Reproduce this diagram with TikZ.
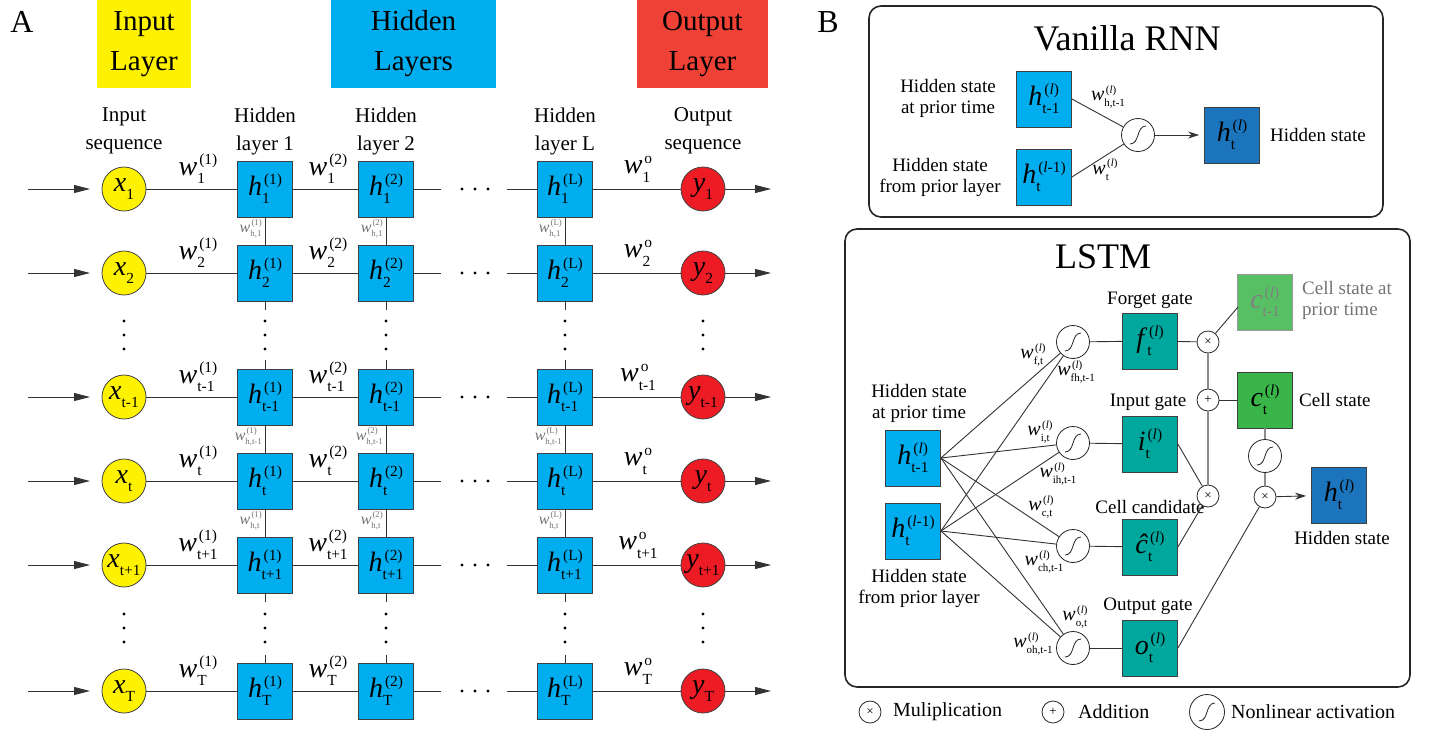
\documentclass[tikz,border=0pt]{standalone}
\usepackage{fontspec}
\setmainfont{Liberation Serif}
\usetikzlibrary{arrows.meta,calc}
\definecolor{cyanA}{HTML}{00AEEF}
\definecolor{yelA}{HTML}{FFF200}
\definecolor{redA}{HTML}{EF4136}
\definecolor{redB}{HTML}{ED1C24}
\definecolor{tealA}{HTML}{00A79D}
\definecolor{greenA}{HTML}{39B54A}
\definecolor{blueD}{HTML}{1C75BC}
\makeatletter
\newdimen\SSd
\newdimen\SSe
\newcommand\SSz{\SSd=\f@size pt\SSd=0.55\SSd\fontsize{\strip@pt\SSd}{\strip@pt\SSd}\selectfont}
\newcommand\SubSup[2]{{\SSe=1em\SSz
 \setbox0\hbox{\raise-0.3\SSe\hbox{#1}}%
 \setbox2\hbox{\kern0.07\SSe\raise0.38\SSe\hbox{#2}}%
 \ifdim\wd0>\wd2 \rlap{\box2}\box0 \else\rlap{\box0}\box2 \fi}}
\makeatother
\newcommand\Mv[3]{\textit{#1}\SubSup{#2}{#3}}
\newcommand\Mx[2]{\textit{#1}\SubSup{#2}{}}
\begin{document}
\begin{tikzpicture}[x=1pt,y=-1pt,
 ln/.style={draw=black!80,line width=0.9pt},
 gl/.style={draw=black!45,line width=1.1pt},
 arr/.style={ln,-{Triangle[length=16pt,width=8pt]}},
 sarr/.style={ln,-{Stealth[length=11pt,width=7pt]}},
 hbox/.style={draw=black!75,line width=0.8pt,fill=cyanA,minimum width=55pt,minimum height=56pt,inner sep=0pt,font=\fontsize{28}{30}\selectfont},
 gbox/.style={hbox,fill=tealA},
 grbox/.style={hbox,fill=greenA},
 dbox/.style={hbox,fill=blueD},
 cpbox/.style={hbox,fill=greenA!85!white,draw=black!40,text=black!50},
 xc/.style={circle,draw=black!75,line width=0.8pt,fill=yelA,minimum size=44pt,inner sep=0pt,font=\fontsize{28}{30}\selectfont},
 yc/.style={xc,fill=redB},
 wlab/.style={font=\fontsize{28}{30}\selectfont,inner sep=0pt},
 vlab/.style={font=\fontsize{16}{18}\selectfont,text=black!55,inner sep=0pt,anchor=east},
 wl/.style={font=\fontsize{20}{22}\selectfont,inner sep=0pt},
 col/.style={font=\fontsize{21}{28}\selectfont,align=center},
 head/.style={font=\fontsize{29}{40}\selectfont,align=center,inner sep=0pt},
 lab/.style={font=\fontsize{19}{21}\selectfont,align=center,inner sep=0pt},
 leg/.style={font=\fontsize{20}{22}\selectfont,inner sep=0pt,anchor=west},
 ttl/.style={font=\fontsize{36}{40}\selectfont,inner sep=0pt},
 dt/.style={circle,fill=black,inner sep=0pt,minimum size=3.4pt},
 mul/.style={circle,draw=black!85,line width=0.8pt,fill=white,minimum size=22pt,inner sep=0pt,font=\fontsize{13}{13}\selectfont},
 sig/.style={circle,draw=black!85,line width=0.8pt,fill=white,minimum size=33pt,inner sep=0pt,
   path picture={\draw[line width=0.8pt] ([shift={(-8pt,-9pt)}]path picture bounding box.center) .. controls +(10pt,0pt) and +(-10pt,0pt) .. ([shift={(8pt,9pt)}]path picture bounding box.center);}},
 bigsig/.style={sig,minimum size=35pt}
]
\useasboundingbox (0,0) rectangle (1429,732);

% ---------------- Panel A ----------------
\node[font=\fontsize{32}{32}\selectfont] (lA) at (22,22) {A};
\node[head,fill=yelA,minimum width=94pt,minimum height=88pt] (hIn) at (144,44) {Input\\Layer};
\node[head,fill=cyanA,minimum width=165pt,minimum height=88pt] (hHid) at (413.5,44) {Hidden\\Layers};
\node[head,fill=redA,minimum width=131pt,minimum height=88pt] (hOut) at (702.5,44) {Output\\Layer};

\node[col] (cIn) at (124,131) {Input\\sequence};
\node[col] (c1) at (265,131) {Hidden\\layer 1};
\node[col] (c2) at (386,131) {Hidden\\layer 2};
\node[col] (cL) at (565,131) {Hidden\\layer L};
\node[col] (cOut) at (703,131) {Output\\sequence};

\foreach \q/\yy/\tx in {1/189/1,2/273/2,3/397/t-1,4/481/t,5/565/t+1,6/691/T}{
 \node[xc] (x\q) at (124,\yy) {\Mx{x}{\tx}};
 \node[hbox] (ha\q) at (265,\yy) {\Mv{h}{\tx}{(1)}};
 \node[hbox] (hb\q) at (386,\yy) {\Mv{h}{\tx}{(2)}};
 \node[hbox] (hc\q) at (565,\yy) {\Mv{h}{\tx}{(L)}};
 \node[yc] (y\q) at (703,\yy) {\Mx{y}{\tx}};
 \coordinate (ai\q) at (28,\yy);
 \coordinate (ae\q) at (90,\yy);
 \coordinate (ao\q) at (771,\yy);
 \coordinate (da\q) at (441,\yy);
 \coordinate (db\q) at (507,\yy);
 \draw[arr] (ai\q) -- (ae\q);
 \draw[ln] (x\q) -- (ha\q);
 \draw[ln] (ha\q) -- (hb\q);
 \draw[ln] (hb\q) -- (da\q);
 \draw[ln] (db\q) -- (hc\q);
 \draw[ln] (hc\q) -- (y\q);
 \draw[arr] (y\q) -- (ao\q);
 \foreach \dx in {462,475,488} \node[dt] at (\dx,\yy) {};
 \node[wlab] at (198,\yy-20) {\Mv{w}{\tx}{(1)}};
 \node[wlab] at (328,\yy-20) {\Mv{w}{\tx}{(2)}};
 \node[wlab] at (638,\yy-20) {\Mv{w}{\tx}{o}};
}

\foreach \cn/\X/\sp/\lx in {ha/265/(1)/262, hb/386/(2)/383, hc/565/(L)/562}{
 \coordinate (\cn U1) at (\X,310);
 \coordinate (\cn U2) at (\X,360);
 \coordinate (\cn U3) at (\X,602);
 \coordinate (\cn U4) at (\X,655);
 \draw[ln] (\cn1) -- (\cn2);
 \draw[ln] (\cn2) -- (\cn U1);
 \draw[ln] (\cn U2) -- (\cn3);
 \draw[ln] (\cn3) -- (\cn4);
 \draw[ln] (\cn4) -- (\cn5);
 \draw[ln] (\cn5) -- (\cn U3);
 \draw[ln] (\cn U4) -- (\cn6);
 \foreach \dy in {321,335,349,614,628,642} \node[dt] at (\X,\dy) {};
 \node[vlab] at (\lx,229) {\Mv{w}{h,1}{\sp}};
 \node[vlab] at (\lx,437) {\Mv{w}{h,t-1}{\sp}};
 \node[vlab] at (\lx,521) {\Mv{w}{h,t}{\sp}};
}
\foreach \X in {124,703}{
 \foreach \dy in {321,335,349,614,628,642} \node[dt] at (\X,\dy) {};
}

% ---------------- Panel B ----------------
\node[font=\fontsize{32}{32}\selectfont] (lB) at (828,22) {B};

% Vanilla RNN
\draw[rounded corners=12pt,line width=1.6pt,draw=black!85] (869,6) rectangle (1383,217);
\node[ttl] (tV) at (1127,38) {Vanilla RNN};
\node[hbox] (vp) at (1044,99) {\Mv{h}{t-1}{(\textit{l})}};
\node[hbox] (vc) at (1044,177) {\Mv{h}{t}{(\textit{l}-1)}};
\node[sig] (vs) at (1138,135) {};
\node[dbox] (vh) at (1232,135) {\Mv{h}{t}{(\textit{l})}};
\draw[ln] (vp.east) -- (vs);
\draw[ln] (vc.east) -- (vs);
\draw[sarr,shorten >=5pt] (vs) -- (vh);
\node[lab] (vpl) at (948,98) {Hidden state\\at prior time};
\node[lab] (vcl) at (940,177) {Hidden state\\from prior layer};
\node[lab,anchor=west] (vhl) at (1270,135) {Hidden state};
\node[wl] (vw1) at (1108,97) {\Mv{w}{h,t-1}{(\textit{l})}};
\node[wl] (vw2) at (1105,170) {\Mv{w}{t}{(\textit{l})}};

% LSTM
\draw[rounded corners=12pt,line width=1.6pt,draw=black!85] (845,229) rectangle (1410,687);
\node[ttl] (tL) at (1103,257) {LSTM};
\node[hbox] (lp) at (913,458) {\Mv{h}{t-1}{(\textit{l})}};
\node[hbox] (lc) at (913,531) {\Mv{h}{t}{(\textit{l}-1)}};
\node[lab] (lpl) at (919,403) {Hidden state\\at prior time};
\node[lab] (lcl) at (919,588) {Hidden state\\from prior layer};
\node[sig] (sf) at (1073,342) {};
\node[sig] (si) at (1073,443) {};
\node[sig] (sc) at (1073,546) {};
\node[sig] (so) at (1073,648) {};
\node[gbox] (fg) at (1150,341) {\Mv{f}{t}{(\textit{l})}};
\node[gbox] (ig) at (1150,444) {\Mv{i}{t}{(\textit{l})}};
\node[gbox] (cg) at (1150,547) {\Mv{\^{c}}{t}{(\textit{l})}};
\node[gbox] (og) at (1150,648) {\Mv{o}{t}{(\textit{l})}};
\node[lab] (fgl) at (1150,300) {Forget gate};
\node[lab] (igl) at (1148,402) {Input gate};
\node[lab] (cgl) at (1150,507) {Cell candidate};
\node[lab] (ogl) at (1148,606) {Output gate};
\node[mul] (m1) at (1208,342) {×};
\node[mul] (pl) at (1208,400) {+};
\node[mul] (m2) at (1208,496) {×};
\node[cpbox] (cp) at (1265,302) {\Mv{c}{t-1}{(\textit{l})}};
\node[grbox] (ct) at (1265,400) {\Mv{c}{t}{(\textit{l})}};
\node[sig] (st) at (1265,456) {};
\node[mul] (m3) at (1265,497) {×};
\node[dbox] (ho) at (1339,495) {\Mv{h}{t}{(\textit{l})}};
\node[lab,text=black!55,align=left,anchor=west] (cpl) at (1302,300) {Cell state at\\prior time};
\node[lab,anchor=west] (ctl) at (1299,400) {Cell state};
\node[lab] (hol) at (1342,538) {Hidden state};

\foreach \s in {sf,si,sc,so}{
 \draw[ln] (lp.east) -- (\s);
 \draw[ln] (lc.east) -- (\s);
}
\draw[ln] (sf) -- (fg);
\draw[ln] (si) -- (ig);
\draw[ln] (sc) -- (cg);
\draw[ln] (so) -- (og);
\draw[ln] (fg) -- (m1);
\coordinate (cpin) at (1238,307);
\draw[ln] (m1) -- (cpin);
\draw[gl] (m1) -- (pl);
\draw[gl] (pl) -- (m2);
\draw[ln] (pl) -- (ct);
\draw[ln] (ig.east) -- (m2);
\draw[ln] (cg.east) -- (m2);
\draw[gl] (ct) -- (st);
\draw[gl] (st) -- (m3);
\draw[ln] (og.east) -- (m3);
\draw[sarr,shorten >=5pt] (m3) -- (ho);

\node[wl] (w1) at (1033,355) {\Mv{w}{f,t}{(\textit{l})}};
\node[wl] (w2) at (1076,372) {\Mv{w}{fh,t-1}{(\textit{l})}};
\node[wl] (w3) at (1040,432) {\Mv{w}{i,t}{(\textit{l})}};
\node[wl] (w4) at (1058,474) {\Mv{w}{ih,t-1}{(\textit{l})}};
\node[wl] (w5) at (1041,507) {\Mv{w}{c,t}{(\textit{l})}};
\node[wl] (w6) at (1044,562) {\Mv{w}{ch,t-1}{(\textit{l})}};
\node[wl] (w7) at (1075,617) {\Mv{w}{o,t}{(\textit{l})}};
\node[wl] (w8) at (1033,644) {\Mv{w}{oh,t-1}{(\textit{l})}};

% Legend
\node[mul] (lg1) at (870,712) {×};
\node[leg] (lt1) at (893,712) {Muliplication};
\node[mul] (lg2) at (1053,712) {+};
\node[leg] (lt2) at (1078,712) {Addition};
\node[bigsig] (lg3) at (1207,712) {};
\node[leg] (lt3) at (1231,712) {Nonlinear activation};
\end{tikzpicture}
\end{document}
